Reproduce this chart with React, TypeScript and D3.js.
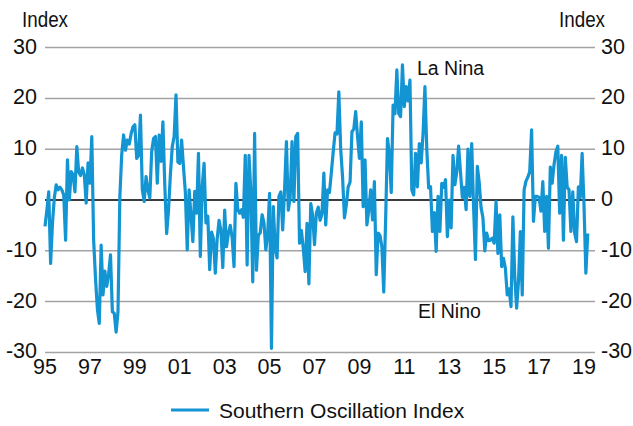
import React from "react";
import * as d3 from "d3";

// Monthly Southern Oscillation Index values (Jan..Dec)
const soi1995 = [-5.2, -2.0, 1.6, -12.5, -4.5, 0.5, 3.0, 2.0, 2.5, 2.0, 1.0, -7.9];
const soi1996 = [7.9, 0.0, 5.6, 5.0, 1.6, 10.5, 5.5, 4.8, 6.3, 5.0, -0.6, 7.3];
const soi1997 = [3.3, 12.5, -8.0, -15.5, -21.5, -24.3, -8.9, -18.7, -14.0, -17.0, -14.5, -10.8];
const soi1998 = [-22.0, -22.3, -26.0, -22.0, 0.7, 9.0, 12.8, 9.8, 11.8, 11.0, 13.0, 14.4];
const soi1999 = [14.8, 8.2, 8.8, 16.7, 2.0, -0.3, 4.6, 2.0, 0.4, 9.5, 12.1, 12.5];
const soi2000 = [3.3, 12.8, 7.6, 15.4, 3.0, -6.6, -2.0, 5.0, 10.5, 12.5, 20.7, 7.5];
const soi2001 = [7.2, 11.8, 6.5, 1.5, -9.8, 2.0, -3.0, -8.2, 1.7, -2.6, 9.2, -11.1];
const soi2002 = [2.7, 7.2, -4.5, -3.2, -13.7, -6.3, -7.6, -14.4, -7.6, -4.0, -6.0, -13.3];
const soi2003 = [-2.0, -9.2, -6.5, -5.0, -7.4, -13.1, 3.3, -1.8, -2.6, -1.9, -3.4, 8.8];
const soi2004 = [-12.8, 8.8, 1.5, -16.1, 13.1, -13.8, -6.9, -6.5, -2.9, -4.5, -9.8, -6.5];
const soi2005 = [1.3, -29.2, -1.3, -9.5, -11.4, 0.7, 1.6, -5.9, 2.0, 11.5, -2.0, 0.5];
const soi2006 = [11.5, -0.3, 12.5, 13.1, -8.5, -6.0, -9.5, -14.1, -4.6, -16.5, -0.7, -3.0];
const soi2007 = [-8.8, -2.6, -1.4, -4.0, -2.7, 5.3, -4.9, 2.0, 1.5, 5.4, 9.5, 13.2];
const soi2008 = [13.0, 21.3, 10.0, 4.5, -3.5, -1.0, 2.6, 3.5, 13.4, 14.0, 17.4, 12.5];
const soi2009 = [8.2, 15.4, -1.3, 7.9, -4.9, -2.0, 2.0, -3.9, 3.6, -14.7, -6.5, -7.0];
const soi2010 = [-9.2, -18.1, -4.0, 12.1, 9.0, 1.5, 18.7, 17.0, 25.6, 17.0, 16.4, 26.6];
const soi2011 = [18.4, 22.3, 19.5, 23.6, 2.0, 1.0, 9.2, 2.6, 11.1, 7.3, 13.0, 22.3];
const soi2012 = [10.0, 2.4, 2.6, -6.2, -2.5, -10.1, 0.7, -6.2, 3.3, 2.5, 4.0, -7.2];
const soi2013 = [0.0, -5.5, 8.8, 3.0, 5.5, 10.6, 5.5, 0.5, 2.5, -1.9, 10.0, 0.7];
const soi2014 = [11.1, -1.3, -11.7, 6.6, 3.5, -1.5, -3.5, -10.0, -6.5, -8.0, -7.9, -7.5];
const soi2015 = [-8.5, -0.3, -10.5, -2.9, -13.1, -11.5, -13.5, -18.7, -17.5, -21.0, -3.3, -15.0];
const soi2016 = [-21.3, -16.0, -6.2, -18.7, 2.0, 3.7, 4.5, 5.6, 13.8, -4.2, 0.7, 0.7];
const soi2017 = [0.5, -2.2, 3.6, -6.2, 0.7, -9.5, 6.5, 3.3, 7.0, 9.5, 10.6, -2.6];
const soi2018 = [8.8, -7.9, 8.4, 2.6, 2.0, -6.2, 1.6, -6.5, -8.2, 2.6, 0.5, 9.2];
const soi2019 = [-1.0, -14.4, -6.6];

const startYear = 1995;
const xTickYears = [1995, 1997, 1999, 2001, 2003, 2005, 2007, 2009, 2011, 2013, 2015, 2017, 2019];
const xTickLabels = ["95", "97", "99", "01", "03", "05", "07", "09", "11", "13", "15", "17", "19"];
const yTicks = [-30, -20, -10, 0, 10, 20, 30];
const axisTitle = "Index";
const seriesName = "Southern Oscillation Index";
const topNote = "La Nina";
const bottomNote = "El Nino";

const FONT = "'Liberation Sans', Arial, Helvetica, sans-serif";
const BLUE = "#1394d3";

export default function App() {
  const values = [
    soi1995, soi1996, soi1997, soi1998, soi1999, soi2000, soi2001, soi2002, soi2003,
    soi2004, soi2005, soi2006, soi2007, soi2008, soi2009, soi2010, soi2011, soi2012,
    soi2013, soi2014, soi2015, soi2016, soi2017, soi2018, soi2019,
  ].flat();
  const data = values.map((v, i) => ({ t: startYear + i / 12, v }));

  const x = d3.scaleLinear().domain([1995, 2019]).range([45, 584]);
  const y = d3.scaleLinear().domain([-30, 30]).range([352.4, 47.6]);
  const gridX0 = 45;
  const gridX1 = 595;

  const line = d3
    .line<{ t: number; v: number }>()
    .x((d) => x(d.t))
    .y((d) => y(d.v));

  return (
    <svg
      width={633}
      height={426}
      style={{ position: "absolute", left: 0, top: 0, background: "#fff" }}
      fontFamily={FONT}
    >
      {/* grid */}
      {yTicks.map((t) => (
        <line
          key={"g" + t}
          x1={gridX0}
          x2={gridX1}
          y1={y(t)}
          y2={y(t)}
          stroke={t === 0 ? "#3c3c3c" : "#a3a3a3"}
          strokeWidth={t === 0 ? 2 : 1.5}
        />
      ))}

      {/* left / right tick labels */}
      {yTicks.map((t) => (
        <text key={"l" + t} x={37} y={y(t) + 6} fontSize={21.5} textAnchor="end" fill="#111">
          {t}
        </text>
      ))}
      {yTicks.map((t) => (
        <text key={"r" + t} x={601} y={y(t) + 6} fontSize={21.5} textAnchor="start" fill="#111">
          {t}
        </text>
      ))}

      {/* axis titles */}
      <text x={22} y={27} fontSize={22.5} textLength={46} lengthAdjust="spacingAndGlyphs" fill="#111">
        {axisTitle}
      </text>
      <text x={559} y={27} fontSize={22.5} textLength={46} lengthAdjust="spacingAndGlyphs" fill="#111">
        {axisTitle}
      </text>

      {/* x tick labels */}
      {xTickYears.map((yr, i) => (
        <text key={"x" + yr} x={x(yr)} y={374} fontSize={21.5} textAnchor="middle" fill="#111">
          {xTickLabels[i]}
        </text>
      ))}

      {/* series */}
      <path
        d={line(data) || ""}
        fill="none"
        stroke={BLUE}
        strokeWidth={3.2}
        strokeLinejoin="round"
        strokeLinecap="butt"
      />

      {/* annotations */}
      <text x={417} y={75} fontSize={19.5} fill="#111">
        {topNote}
      </text>
      <text x={418} y={318} fontSize={19.5} fill="#111">
        {bottomNote}
      </text>

      {/* legend */}
      <line x1={171} x2={209} y1={410} y2={410} stroke={BLUE} strokeWidth={3.2} />
      <text x={219} y={417.5} fontSize={21} fill="#111">
        {seriesName}
      </text>
    </svg>
  );
}
